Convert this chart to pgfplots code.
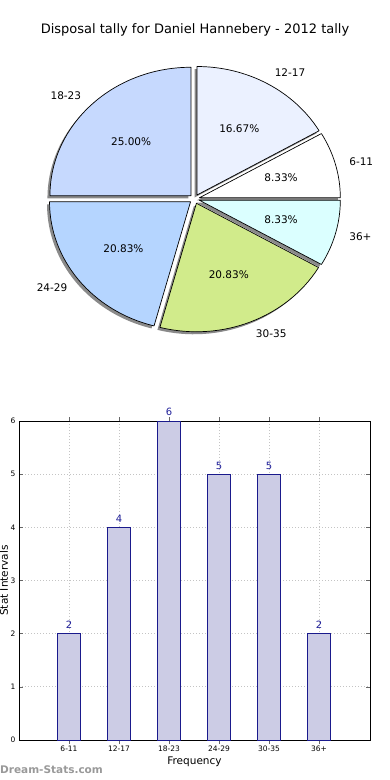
\documentclass[border=0pt]{standalone}
\usepackage{pgfplots}
\pgfplotsset{compat=1.18}
\usepackage{pgfplotstable}
\usepackage{fontspec}
\setmainfont{DejaVu Sans}
\definecolor{pc0}{HTML}{FFFFFF}
\definecolor{pc1}{HTML}{EBF1FF}
\definecolor{pc2}{HTML}{C6D9FE}
\definecolor{pc3}{HTML}{B5D5FF}
\definecolor{pc4}{HTML}{D1EB8B}
\definecolor{pc5}{HTML}{DBFFFF}
\definecolor{shadowc}{HTML}{8A8A8A}
\definecolor{barfill}{HTML}{CCCCE5}
\definecolor{baredge}{HTML}{1A1A8C}
\definecolor{vallab}{HTML}{1F1F99}
\definecolor{gridc}{HTML}{C4C4C4}

\pgfplotstableread{
idx label value
0 6-11 2
1 12-17 4
2 18-23 6
3 24-29 5
4 30-35 5
5 36+ 2
}\datatab

\newcommand\piefont{\fontsize{10.5}{12}\selectfont}
\newcommand\doShadow[7]{\fill[shadowc] (axis cs:{#4-2.5},{#5-2.5}) -- (axis cs:{#4-2.5+141*cos(#1)},{#5-2.5+128.5*sin(#1)}) arc[start angle=#1,end angle=#2,x radius=141pt,y radius=128.5pt] -- cycle;}
\newcommand\doSlice[8]{\filldraw[fill=#8,draw=black,line width=0.7pt,line join=round] (axis cs:#4,#5) -- (axis cs:{#4+141*cos(#1)},{#5+128.5*sin(#1)}) arc[start angle=#1,end angle=#2,x radius=141pt,y radius=128.5pt] -- cycle;}
\newcommand\doText[8]{\node[anchor=#6,font=\piefont,inner sep=0pt] at (axis cs:{#4+1.1*141*cos(#3)},{#5+1.1*128.5*sin(#3)}) {#8};
\node[font=\piefont,inner sep=0pt] at (axis cs:{#4+0.6*141*cos(#3)},{#5+0.6*128.5*sin(#3)}) {#7\%};}

\begin{document}
\begin{tikzpicture}
% --- pie geometry from the data table ---
\xdef\total{0}%
\pgfplotstableforeachcolumnelement{value}\of\datatab\as\v{\pgfmathparse{\total+\v}\xdef\total{\pgfmathresult}}%
\xdef\cum{0}%
\pgfplotstableforeachcolumnelement{value}\of\datatab\as\v{%
  \pgfmathsetmacro\sa{\cum}%
  \pgfmathsetmacro\ea{\cum+360*\v/\total}%
  \xdef\cum{\ea}%
  \pgfmathsetmacro\mm{(\sa+\ea)/2}%
  \pgfmathsetmacro\ox{194.5+5*cos(\mm)}%
  \pgfmathsetmacro\oy{-199+4.6*sin(\mm)}%
  \pgfmathtruncatemacro\isright{cos(\mm)>0}%
  \pgfmathsetmacro\pc{100*\v/\total}%
  \pgfmathprintnumberto[fixed,fixed zerofill,precision=2,assume math mode=true]{\pc}{\pcs}%
  \expandafter\xdef\csname pie@\pgfplotstablerow\endcsname{{\sa}{\ea}{\mm}{\ox}{\oy}{\ifnum\isright=1 west\else east\fi}{\pcs}}%
}%
\pgfplotstableforeachcolumnelement{label}\of\datatab\as\v{\global\expandafter\let\csname lab\pgfplotstablerow\endcsname\v}%
% --- pie ---
\begin{axis}[at={(0pt,0pt)},anchor=north west,x=1pt,y=1pt,
  xmin=0,xmax=390,ymin=-780,ymax=0,hide axis,clip=false]
\pgfplotsinvokeforeach{0,...,5}{\expandafter\expandafter\expandafter\doShadow\csname pie@#1\endcsname}
\pgfplotsinvokeforeach{0,...,5}{\expandafter\expandafter\expandafter\doSlice\csname pie@#1\endcsname{pc#1}}
\pgfplotsinvokeforeach{0,...,5}{\expandafter\expandafter\expandafter\doText\csname pie@#1\endcsname{\csname lab#1\endcsname}}
\node[font=\fontsize{13}{15}\selectfont] at (axis cs:195,-30) {Disposal tally for Daniel Hannebery - 2012 tally};
\node[font=\fontsize{10.5}{12}\selectfont\bfseries,text=black!40,anchor=west,inner sep=0pt] at (axis cs:0,-770) {Dream-Stats.com};
\end{axis}
% --- bars ---
\begin{axis}[at={(19pt,-740pt)},anchor=south west,scale only axis,
  width=351pt,height=319pt,
  xmin=-1,xmax=6.02,ymin=0,ymax=6,
  xtick={0,...,5},xticklabels from table={\datatab}{label},
  ytick={0,...,6},
  /pgf/number format/assume math mode=true,
  tick label style={font=\fontsize{7.5}{9}\selectfont},
  xticklabel style={yshift=1.5pt},
  grid=major,grid style={gridc,line width=1pt,dash pattern=on 1pt off 2pt},
  tick align=inside,major tick length=4pt,tick style={black!60,line width=0.5pt},
  axis line style={black,line width=0.8pt},
  xlabel={Frequency},ylabel={Stat Intervals},
  label style={font=\fontsize{10.5}{12}\selectfont},
  xlabel style={at={(axis description cs:0.5,-0.0685)},anchor=center},
  ylabel style={at={(axis description cs:-0.043,0.5)},anchor=center},
  ybar,bar width=0.47,clip=false,
  nodes near coords,
  nodes near coords style={font=\fontsize{10}{12}\selectfont,text=vallab,inner sep=0pt,anchor=south,yshift=4.5pt},
  axis on top=false]
\addplot[fill=barfill,draw=baredge,line width=0.9pt] table[x=idx,y=value]{\datatab};
\end{axis}
\pgfresetboundingbox
\path (0,0) rectangle (390pt,-780pt);
\end{tikzpicture}
\end{document}
